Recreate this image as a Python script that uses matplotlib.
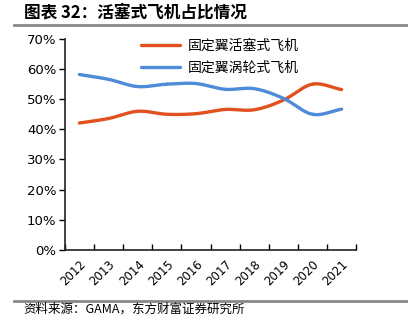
import numpy as np
import matplotlib.pyplot as plt
from matplotlib.lines import Line2D

plt.rcParams['font.family'] = ['Noto Sans CJK SC', 'DejaVu Sans']

years = ['2012', '2013', '2014', '2015', '2016', '2017', '2018', '2019', '2020', '2021']
piston = [42.1, 43.6, 46.0, 45.0, 45.2, 46.6, 46.5, 49.7, 55.0, 53.2]
turbo = [58.2, 56.6, 54.2, 55.0, 55.2, 53.3, 53.5, 50.3, 45.0, 46.7]

c_orange = '#E2501E'
c_blue = '#4E8BD8'


def smooth(x, y, n=30):
    # catmull-rom curve through the points, like Excel smoothed lines
    x = np.asarray(x, float)
    y = np.asarray(y, float)
    px = np.concatenate([[2 * x[0] - x[1]], x, [2 * x[-1] - x[-2]]])
    py = np.concatenate([[2 * y[0] - y[1]], y, [2 * y[-1] - y[-2]]])
    xs, ys = [], []
    t = np.linspace(0, 1, n)
    for i in range(1, len(px) - 2):
        for p, out in ((px, xs), (py, ys)):
            p0, p1, p2, p3 = p[i - 1], p[i], p[i + 1], p[i + 2]
            out.extend(0.5 * (2 * p1 + (-p0 + p2) * t
                              + (2 * p0 - 5 * p1 + 4 * p2 - p3) * t ** 2
                              + (-p0 + 3 * p1 - 3 * p2 + p3) * t ** 3))
    return np.array(xs), np.array(ys)


fig = plt.figure(figsize=(4.08, 3.22), dpi=100)
ax = fig.add_axes([0.159, 0.224, 0.714, 0.655])

xi = np.arange(len(years))
sx, sy = smooth(xi, piston)
ax.plot(sx, sy, color=c_orange, lw=2.4, solid_capstyle='round', label='固定翼活塞式飞机')
sx, sy = smooth(xi, turbo)
ax.plot(sx, sy, color=c_blue, lw=2.4, solid_capstyle='round', label='固定翼涡轮式飞机')

ax.set_xlim(-0.5, len(years) - 0.5)
ax.set_ylim(0, 70)
ax.set_yticks(range(0, 71, 10))
ax.set_yticklabels([f'{v}%' for v in range(0, 71, 10)], fontsize=9.5, family='DejaVu Sans')
ax.set_xticks(xi)
ax.set_xticklabels(years, rotation=45, fontsize=8.5, family='DejaVu Sans', ha='right', rotation_mode='anchor')
ax.set_xticks(np.arange(-0.5, len(years), 1), minor=True)
ax.tick_params(axis='x', which='major', length=0, pad=6)
ax.tick_params(axis='x', which='minor', direction='in', length=4, width=1)
ax.tick_params(axis='y', direction='out', length=4, width=1, pad=2)
for s in ['top', 'right']:
    ax.spines[s].set_visible(False)
for s in ['left', 'bottom']:
    ax.spines[s].set_linewidth(1.2)
    ax.spines[s].set_color('#222222')

ax.legend(loc='upper left', bbox_to_anchor=(0.22, 1.06), frameon=False, fontsize=10,
          handlelength=2.8, labelspacing=0.55, handletextpad=0.5)

fig.text(0.058, 0.962, '图表 32：活塞式飞机占比情况', fontsize=12, fontweight='bold', va='center')
fig.add_artist(Line2D([0.035, 1.0], [0.922, 0.922], color='#888888', lw=2))
fig.add_artist(Line2D([0.035, 1.0], [0.066, 0.066], color='#888888', lw=2))
fig.text(0.058, 0.04, '资料来源：GAMA，东方财富证券研究所', fontsize=9, va='center')

fig.savefig('out.png', dpi=100)
